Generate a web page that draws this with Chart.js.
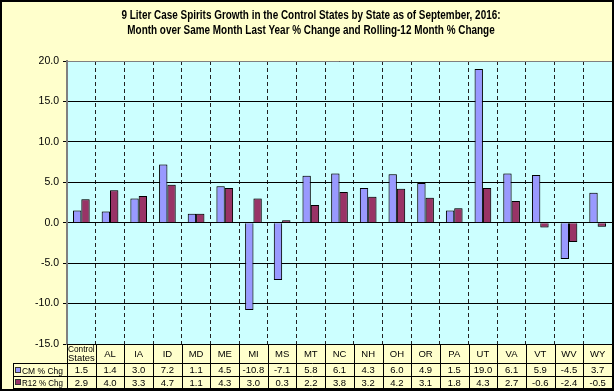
<!DOCTYPE html>
<html>
<head>
<meta charset="utf-8">
<script src="https://cdn.jsdelivr.net/npm/chart.js@4"></script>
<style>
  html, body { margin: 0; padding: 0; background: #FFFFCC; }
  #wrap { width: 614px; height: 391px; position: relative; }
  canvas { display: block; }
</style>
</head>
<body>
<div id="wrap"><canvas id="c" width="614" height="391"></canvas></div>
<script>
const titleLines = [
  '9 Liter Case Spirits Growth in the Control States by State as of September, 2016:',
  'Month over Same Month Last Year % Change and Rolling-12 Month % Change'
];
const categories = ['Control States','AL','IA','ID','MD','ME','MI','MS','MT','NC','NH','OH','OR','PA','UT','VA','VT','WV','WY'];
const cmLabel = 'CM % Chg';
const r12Label = 'R12 % Chg';
const cmValues = [1.5, 1.4, 3.0, 7.2, 1.1, 4.5, -10.8, -7.1, 5.8, 6.1, 4.3, 6.0, 4.9, 1.5, 19.0, 6.1, 5.9, -4.5, 3.7];
const r12Values = [2.9, 4.0, 3.3, 4.7, 1.1, 4.3, 3.0, 0.3, 2.2, 3.8, 3.2, 4.2, 3.1, 1.8, 4.3, 2.7, -0.6, -2.4, -0.5];
const yMin = -15, yMax = 20, yStep = 5;

const CM_COLOR = '#9999FF';
const R12_COLOR = '#993366';
const FONT = 'Liberation Sans, Arial, sans-serif';

function fitText(ctx, text, x, y, maxW) {
  const w = ctx.measureText(text).width;
  const s = w > maxW ? maxW / w : 1;
  ctx.save();
  ctx.translate(x, y);
  ctx.scale(s, 1);
  ctx.fillText(text, 0, 0);
  ctx.restore();
}

const bgPlugin = {
  id: 'bgPlugin',
  beforeDraw(chart) {
    const ctx = chart.ctx;
    const a = chart.chartArea;
    ctx.save();
    ctx.fillStyle = '#FFFFCC';
    ctx.fillRect(0, 0, chart.width, chart.height);
    ctx.fillStyle = '#CCFFFF';
    ctx.fillRect(a.left, a.top, a.right - a.left, a.bottom - a.top);
    ctx.restore();
  },
  afterDraw(chart) {
    const ctx = chart.ctx;
    const a = chart.chartArea;
    const xs = chart.scales.x;
    ctx.save();
    // title (bold, slightly condensed like the original)
    ctx.fillStyle = '#000';
    ctx.font = 'bold 12px ' + FONT;
    ctx.textBaseline = 'alphabetic';
    ctx.textAlign = 'center';
    const w1 = ctx.measureText(titleLines[0]).width;
    const sx = 379 / w1;
    [[titleLines[0], 18.5], [titleLines[1], 33.5]].forEach(([t, y]) => {
      ctx.save();
      ctx.translate(311, y);
      ctx.scale(sx, 1);
      ctx.fillText(t, 0, 0);
      ctx.restore();
    });

    // plot area top border (gray)
    ctx.strokeStyle = '#808080';
    ctx.lineWidth = 1;
    ctx.beginPath();
    ctx.moveTo(a.left, a.top + 0.5);
    ctx.lineTo(a.right, a.top + 0.5);
    ctx.stroke();

    // data table
    const rowTop = a.bottom;
    const r1 = 363;
    const r2 = 376;
    const r3 = 388;
    const legLeft = 13;
    const n = categories.length;
    const bounds = [];
    for (let i = 0; i <= n; i++) {
      if (i === 0) bounds.push(a.left);
      else if (i === n) bounds.push(a.right);
      else bounds.push((xs.getPixelForTick(i - 1) + xs.getPixelForTick(i)) / 2);
    }
    ctx.strokeStyle = '#000';
    ctx.lineWidth = 1;
    ctx.beginPath();
    [r1, r2, r3].forEach(y => {
      ctx.moveTo(legLeft, y + 0.5);
      ctx.lineTo(a.right, y + 0.5);
    });
    ctx.moveTo(a.left, Math.round(rowTop) + 0.5);
    ctx.lineTo(a.right, Math.round(rowTop) + 0.5);
    bounds.forEach(x => {
      ctx.moveTo(Math.round(x) + 0.5, rowTop);
      ctx.lineTo(Math.round(x) + 0.5, r3);
    });
    ctx.moveTo(legLeft + 0.5, r1);
    ctx.lineTo(legLeft + 0.5, r3);
    ctx.stroke();

    ctx.fillStyle = '#000';
    ctx.textAlign = 'center';
    ctx.textBaseline = 'middle';
    ctx.font = '9.5px ' + FONT;
    for (let i = 0; i < n; i++) {
      const cx = xs.getPixelForTick(i);
      const cw = bounds[i + 1] - bounds[i] - 2;
      const words = categories[i].split(' ');
      if (words.length > 1) {
        fitText(ctx, words[0], cx, rowTop + 5.5, cw);
        fitText(ctx, words.slice(1).join(' '), cx, rowTop + 14, cw);
      } else {
        fitText(ctx, categories[i], cx, (rowTop + r1) / 2 + 1, cw);
      }
      fitText(ctx, cmValues[i].toFixed(1), cx, (r1 + r2) / 2 + 1, cw);
      fitText(ctx, r12Values[i].toFixed(1), cx, (r2 + r3) / 2 + 1, cw);
    }
    // legend cells
    ctx.textAlign = 'left';
    const drawKey = (color, label, yTop, yBot) => {
      const ym = Math.round((yTop + yBot) / 2);
      ctx.fillStyle = color;
      ctx.fillRect(15.5, ym - 2.5, 5, 5);
      ctx.strokeStyle = '#333';
      ctx.strokeRect(15.5, ym - 2.5, 5, 5);
      ctx.fillStyle = '#000';
      fitText(ctx, label, 22, ym + 1, 41);
    };
    drawKey(CM_COLOR, cmLabel, r1, r2);
    drawKey(R12_COLOR, r12Label, r2, r3);

    // outer chart border
    ctx.strokeStyle = '#000';
    ctx.lineWidth = 2;
    ctx.strokeRect(1, 1, chart.width - 2, chart.height - 2);
    ctx.restore();
  },
  beforeDatasetsDraw(chart) {
    const ctx = chart.ctx;
    ctx.save();
    ctx.shadowColor = 'rgba(0,0,0,0.35)';
    ctx.shadowBlur = 2;
  },
  afterDatasetsDraw(chart) {
    chart.ctx.restore();
  }
};

new Chart(document.getElementById('c'), {
  type: 'bar',
  data: {
    labels: categories,
    datasets: [
      { label: cmLabel, data: cmValues, backgroundColor: CM_COLOR, borderColor: '#000', borderWidth: 1,
        categoryPercentage: 0.58, barPercentage: 1.0 },
      { label: r12Label, data: r12Values, backgroundColor: R12_COLOR, borderColor: '#000', borderWidth: 1,
        categoryPercentage: 0.58, barPercentage: 1.0 }
    ]
  },
  options: {
    responsive: false,
    animation: false,
    devicePixelRatio: 1,
    layout: { padding: { left: 0, right: 2, top: 61, bottom: 47 } },
    plugins: {
      legend: { display: false },
      tooltip: { enabled: false },
      title: { display: false }
    },
    scales: {
      x: {
        ticks: { display: false },
        grid: { display: true, offset: true, color: '#222', lineWidth: 1, drawTicks: false },
        border: { display: true, color: '#000', dash: [4, 3] },
        afterFit(scale) { scale.height = 0; }
      },
      y: {
        min: yMin, max: yMax,
        ticks: {
          stepSize: yStep,
          color: '#000',
          padding: 4,
          font: { family: FONT, size: 10.5 },
          callback: v => Number(v).toFixed(1)
        },
        grid: { color: '#000', lineWidth: 1, drawTicks: true, tickLength: 4, tickColor: '#000' },
        border: { display: true, color: '#808080', width: 2 },
        afterFit(scale) { scale.width = 67; }
      }
    }
  },
  plugins: [bgPlugin]
});
</script>
</body>
</html>
